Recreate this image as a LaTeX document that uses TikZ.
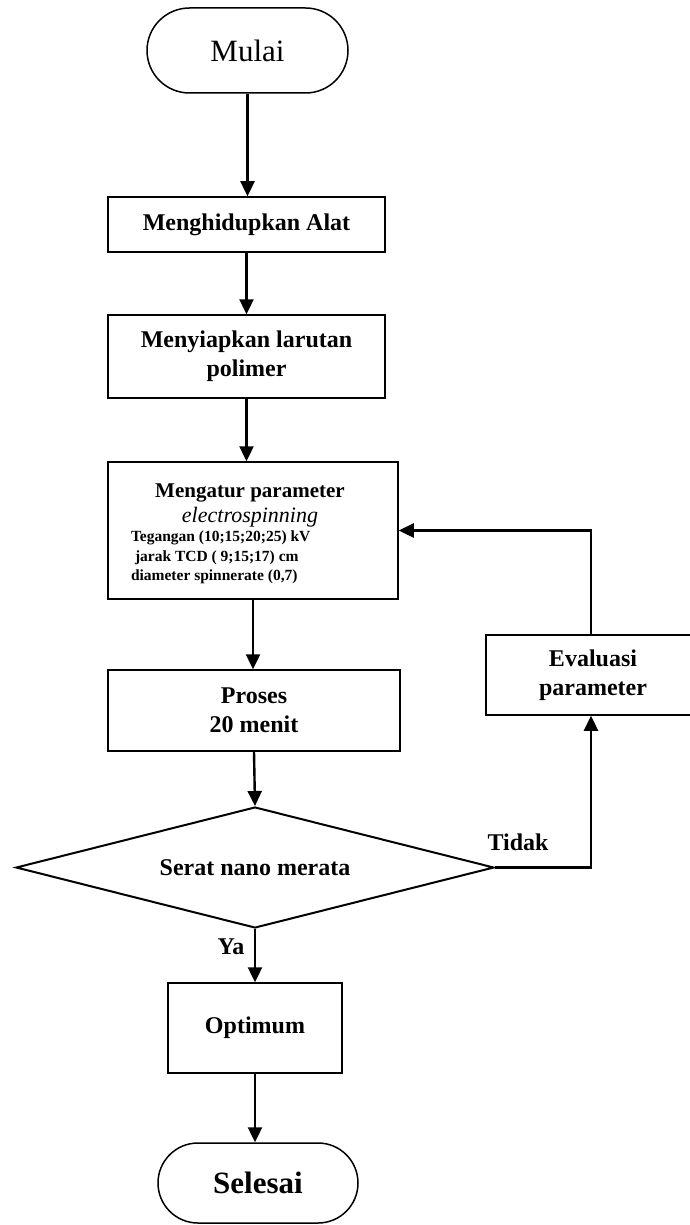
\documentclass[tikz,border=0pt]{standalone}
\usepackage{fontspec}
\setmainfont{Liberation Serif}
\usetikzlibrary{arrows.meta,shapes.geometric,shapes.misc}

\begin{document}
\begin{tikzpicture}[x=1pt,y=-1pt,
		terminal/.style={draw,line width=1.5pt,rounded rectangle,inner sep=0pt},
		stepbox/.style={draw,line width=1.5pt,rectangle,align=center,inner sep=0pt,font=\fontsize{24}{29}\selectfont\bfseries},
		decision/.style={draw,line width=2pt,diamond,aspect=3.95,inner sep=0pt,font=\fontsize{24}{29}\selectfont\bfseries},
		flow/.style={line width=2.4pt,-{Triangle[length=15pt,width=14pt]}},
		answer/.style={font=\fontsize{24}{29}\selectfont\bfseries}]
			\useasboundingbox (0,0) rectangle (690,1225);

			% start and end
			\node[terminal,minimum width=201pt,minimum height=85pt,font=\fontsize{31}{36}\selectfont] (mulai) at (247.5,50.5) {Mulai};
			\node[terminal,minimum width=200pt,minimum height=80pt,font=\fontsize{31}{36}\selectfont\bfseries] (selesai) at (258,1183) {Selesai};

			% process steps
			\node[stepbox,minimum width=277pt,minimum height=55pt] (alat) at (246.5,224.5) {Menghidupkan Alat};
			\node[stepbox,minimum width=277pt,minimum height=83pt] (larutan) at (246.5,356.5) {Menyiapkan larutan\\polimer};
			\node[stepbox,minimum width=290pt,minimum height=137pt] (atur) at (253,530.5)
			{
				\begin{minipage}{248pt}
					\vspace*{7pt}
					\centering
					{\fontsize{21}{25}\selectfont Mengatur parameter\par}
					{\fontsize{22}{25}\selectfont\normalfont\itshape electrospinning\par}
					\raggedright\leftskip=5pt
					\fontsize{15.5}{19.5}\selectfont
					Tegangan (10;15;20;25) kV\par
					\hspace{4pt}jarak TCD ( 9;15;17) cm\par
					diameter spinnerate (0,7)\par
				\end{minipage}
			};
			\node[stepbox,minimum width=292pt,minimum height=81pt] (proses) at (254,710.5) {Proses\\20 menit};
			\node[decision,minimum width=478pt,minimum height=121pt] (serat) at (255,867.5) {Serat nano merata};
			\node[stepbox,minimum width=214pt,minimum height=80pt] (evaluasi) at (593,675) {Evaluasi\\parameter};
			\node[stepbox,minimum width=174pt,minimum height=90pt] (optimum) at (255,1028) {Optimum};

			% connectors
			\draw[flow] (mulai.south) -- (mulai.south |- alat.north);
			\draw[flow] (alat.south) -- (alat.south |- larutan.north);
			\draw[flow] (larutan.south) -- (larutan.south |- atur.north);
			\draw[flow] (atur.south) -- (atur.south |- proses.north);
			\draw[flow] (proses.south) -- (serat.north);
			\draw[flow] (serat.south) -- (serat.south |- optimum.north);
			\draw[flow] (optimum.south) -- (optimum.south |- selesai.north);
			\coordinate (belok) at (591,867.5);
			\draw[flow] (serat.east) -- (belok) -- (belok |- evaluasi.south);
			\draw[flow] (belok |- evaluasi.north) |- (atur.east);

			% answers
			\node[answer] (tidak) at (518,842) {Tidak};
			\node[answer] (ya) at (231,947) {Ya};
		\end{tikzpicture}
\end{document}
